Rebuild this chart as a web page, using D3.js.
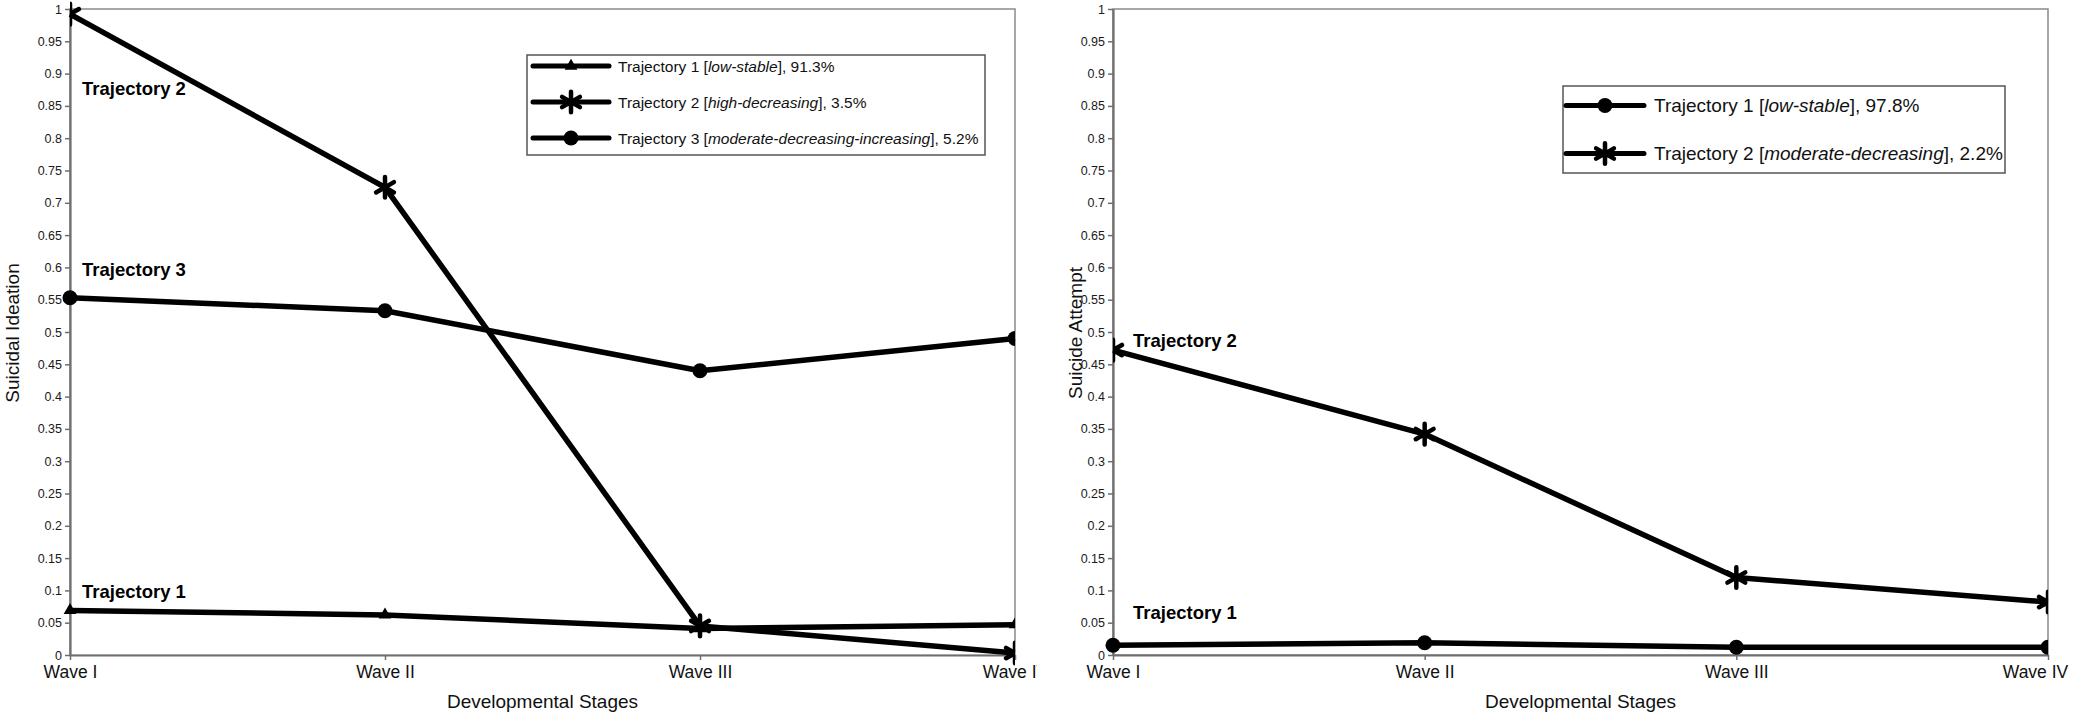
<!DOCTYPE html>
<html>
<head>
<meta charset="utf-8">
<script src="https://cdn.jsdelivr.net/npm/d3@7"></script>
<style>
body { margin: 0; background: #fff; }
svg { display: block; font-family: "Liberation Sans", Arial, sans-serif; }
</style>
</head>
<body>
<svg width="2086" height="721"></svg>
<script>
// values
const waves = ['Wave I', 'Wave II', 'Wave III', 'Wave IV'];
const yTickValues = [0, 0.05, 0.1, 0.15, 0.2, 0.25, 0.3, 0.35, 0.4, 0.45, 0.5,
    0.55, 0.6, 0.65, 0.7, 0.75, 0.8, 0.85, 0.9, 0.95, 1];
const yTickLabels = ['0', '0.05', '0.1', '0.15', '0.2', '0.25', '0.3', '0.35', '0.4', '0.45', '0.5',
    '0.55', '0.6', '0.65', '0.7', '0.75', '0.8', '0.85', '0.9', '0.95', '1'];

const ideationTraj1 = [0.069, 0.062, 0.041, 0.047];
const ideationTraj2 = [0.992, 0.724, 0.045, 0.003];
const ideationTraj3 = [0.553, 0.533, 0.440, 0.490];
const attemptTraj1 = [0.015, 0.019, 0.012, 0.012];
const attemptTraj2 = [0.472, 0.342, 0.120, 0.082];

const ideationLegend = [
    ['Trajectory 1 [', 'low-stable', '], 91.3%'],
    ['Trajectory 2 [', 'high-decreasing', '], 3.5%'],
    ['Trajectory 3 [', 'moderate-decreasing-increasing', '], 5.2%']
];
const attemptLegend = [
    ['Trajectory 1 [', 'low-stable', '], 97.8%'],
    ['Trajectory 2 [', 'moderate-decreasing', '], 2.2%']
];

// label text and the value it sits at
const ideationNotes = [['Trajectory 2', 0.877], ['Trajectory 3', 0.598], ['Trajectory 1', 0.099]];
const attemptNotes = [['Trajectory 2', 0.488], ['Trajectory 1', 0.066]];

const svg = d3.select('svg');
const plotTop = 9, plotBottom = 655;
const y = d3.scaleLinear().domain([0, 1]).range([plotBottom, plotTop]);

// marker drawing, shape picked per series
const drawMarker = (g, shape, cx, cy) => {
    if (shape === 'circle') {
        g.append('circle').attr('cx', cx).attr('cy', cy).attr('r', 7.5).attr('fill', '#000');
    } else if (shape === 'star') {
        g.append('path')
            .attr('d', d3.symbol(d3.symbolAsterisk, 300)())
            .attr('transform', `translate(${cx},${cy})`)
            .attr('fill', 'none').attr('stroke', '#000').attr('stroke-width', 4.5)
            .attr('stroke-linecap', 'round');
    } else {
        g.append('path')
            .attr('d', d3.symbol(d3.symbolTriangle, 70)())
            .attr('transform', `translate(${cx},${cy})`)
            .attr('fill', '#000');
    }
}

const drawPanel = (p) => {
    const x = d3.scalePoint().domain(waves).range([p.x0, p.x1]);
    const g = svg.append('g');

    // frame
    g.append('rect')
        .attr('x', p.x0).attr('y', plotTop)
        .attr('width', p.x1 - p.x0).attr('height', plotBottom - plotTop)
        .attr('fill', 'none').attr('stroke', '#8a8a8a').attr('stroke-width', 1.5);

    const yAxis = g.append('g')
        .attr('transform', `translate(${p.x0},0)`)
        .call(d3.axisLeft(y).tickValues(yTickValues)
            .tickFormat((d, i) => yTickLabels[i]).tickSize(5).tickSizeOuter(0).tickPadding(3));
    yAxis.selectAll('text').attr('font-size', 12.5).attr('fill', '#1a1a1a');

    const xAxis = g.append('g')
        .attr('transform', `translate(0,${plotBottom})`)
        .call(d3.axisBottom(x).tickSize(5).tickSizeOuter(0).tickPadding(6));
    xAxis.selectAll('text').attr('font-size', 17.5).attr('fill', '#111');

    [yAxis, xAxis].forEach(a => {
        a.select('.domain').attr('stroke', '#6e6e6e').attr('stroke-width', 2.2);
        a.selectAll('line').attr('stroke', '#6e6e6e').attr('stroke-width', 1.5);
    });
    if (p.lastLabelShift) {
        xAxis.selectAll('.tick text').filter(d => d === 'Wave IV').attr('dx', p.lastLabelShift);
    }
    if (p.clipLastLabel) {
        // the last wave label is cut off in the original
        svg.append('clipPath').attr('id', 'lastlabel')
            .append('rect').attr('x', 0).attr('y', 0).attr('width', p.clipLastLabel).attr('height', 721);
        xAxis.attr('clip-path', 'url(#lastlabel)');
    }

    // axis titles
    g.append('text')
        .attr('x', (p.x0 + p.x1) / 2).attr('y', 708)
        .attr('text-anchor', 'middle').attr('font-size', 19).attr('fill', '#111')
        .text('Developmental Stages');
    g.append('text')
        .attr('transform', `translate(${p.titleX},333) rotate(-90)`)
        .attr('text-anchor', 'middle').attr('font-size', 19).attr('fill', '#111')
        .text(p.yTitle);

    // lines then markers
    const line = d3.line().x((d, i) => x(waves[i])).y(d => y(d));
    p.series.forEach(s => {
        g.append('path')
            .datum(s.values)
            .attr('d', line)
            .attr('fill', 'none').attr('stroke', '#000')
            .attr('stroke-width', 5.5).attr('stroke-linejoin', 'round');
    });
    // stars get cut at the frame, round markers may poke out on the left
    svg.append('clipPath').attr('id', 'clipA' + p.x0)
        .append('rect').attr('x', p.x0 - 14).attr('y', plotTop - 14)
        .attr('width', p.x1 - p.x0 + 14).attr('height', plotBottom - plotTop + 28);
    svg.append('clipPath').attr('id', 'clipB' + p.x0)
        .append('rect').attr('x', p.x0).attr('y', plotTop - 14)
        .attr('width', p.x1 - p.x0).attr('height', plotBottom - plotTop + 28);
    p.series.forEach(s => {
        const marks = g.append('g')
            .attr('clip-path', `url(#clip${s.shape === 'star' ? 'B' : 'A'}${p.x0})`);
        s.values.forEach((v, i) => drawMarker(marks, s.shape, x(waves[i]), y(v)));
    });

    // trajectory notes
    p.notes.forEach(n => {
        g.append('text')
            .attr('x', p.x0 + p.noteDx).attr('y', y(n[1]) + 7)
            .attr('font-size', 18.5).attr('font-weight', 'bold').attr('fill', '#000')
            .text(n[0]);
    });

    // legend
    const L = p.legend;
    g.append('rect')
        .attr('x', L.x).attr('y', L.y).attr('width', L.w).attr('height', L.h)
        .attr('fill', '#fff').attr('stroke', '#555').attr('stroke-width', 1.5);
    p.series.forEach((s, i) => {
        const ry = L.rows[i];
        g.append('line')
            .attr('x1', L.lineX0).attr('x2', L.lineX1).attr('y1', ry).attr('y2', ry)
            .attr('stroke', '#000').attr('stroke-width', 5).attr('stroke-linecap', 'round');
        drawMarker(g, s.shape, (L.lineX0 + L.lineX1) / 2, ry);
        const t = g.append('text')
            .attr('x', L.textX).attr('y', ry + L.fontSize * 0.36)
            .attr('font-size', L.fontSize).attr('fill', '#111');
        t.append('tspan').text(s.label[0]);
        t.append('tspan').attr('font-style', 'italic').text(s.label[1]);
        t.append('tspan').text(s.label[2]);
    });
}

drawPanel({
    x0: 70, x1: 1015, titleX: 19, yTitle: 'Suicidal Ideation', noteDx: 12,
    clipLastLabel: 1037,
    series: [
        { values: ideationTraj1, shape: 'triangle', label: ideationLegend[0] },
        { values: ideationTraj2, shape: 'star', label: ideationLegend[1] },
        { values: ideationTraj3, shape: 'circle', label: ideationLegend[2] }
    ],
    notes: ideationNotes,
    legend: { x: 527, y: 55, w: 458, h: 100, rows: [66, 102, 138], lineX0: 533, lineX1: 609, textX: 618, fontSize: 15.5 }
});

drawPanel({
    x0: 1113, x1: 2048, titleX: 1082, yTitle: 'Suicide Attempt', noteDx: 20,
    lastLabelShift: -13,
    series: [
        { values: attemptTraj1, shape: 'circle', label: attemptLegend[0] },
        { values: attemptTraj2, shape: 'star', label: attemptLegend[1] }
    ],
    notes: attemptNotes,
    legend: { x: 1563, y: 86, w: 442, h: 87, rows: [105.5, 153.5], lineX0: 1566, lineX1: 1644, textX: 1654, fontSize: 19 }
});
</script>
</body>
</html>
